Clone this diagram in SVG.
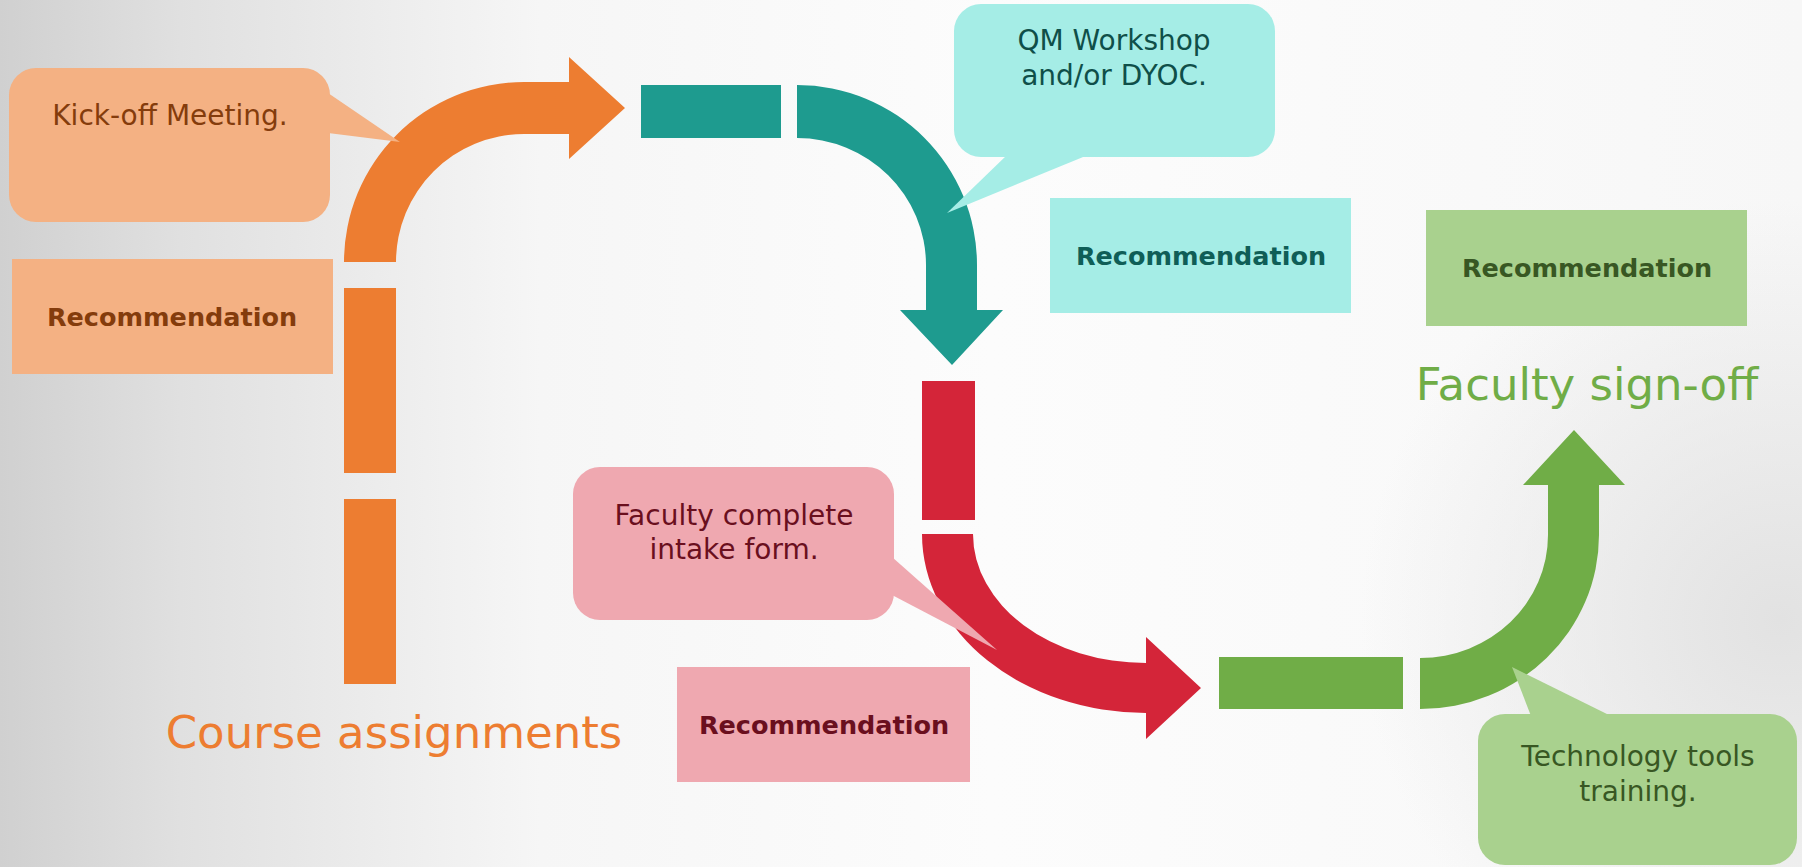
<svg xmlns="http://www.w3.org/2000/svg" width="1802" height="867" viewBox="0 0 1802 867">
<defs>
<linearGradient id="bg" x1="0" y1="0" x2="1" y2="0">
<stop offset="0" stop-color="#d0d0d0"/>
<stop offset="0.1" stop-color="#e0e0e0"/>
<stop offset="0.3" stop-color="#f6f6f6"/>
<stop offset="0.55" stop-color="#fcfcfc"/>
<stop offset="1" stop-color="#f7f7f7"/>
</linearGradient>
<radialGradient id="br" cx="1780" cy="620" r="420" gradientUnits="userSpaceOnUse">
<stop offset="0" stop-color="#e2e2e2" stop-opacity="1"/>
<stop offset="1" stop-color="#e2e2e2" stop-opacity="0"/>
</radialGradient>
<style>
.call{font-family:"DejaVu Sans","Liberation Sans",sans-serif;font-size:28px;text-anchor:middle}
.rec{font-family:"DejaVu Sans","Liberation Sans",sans-serif;font-size:25.5px;font-weight:bold;text-anchor:middle}
.title{font-family:"DejaVu Sans","Liberation Sans",sans-serif;font-size:45px;text-anchor:middle}
</style>
</defs>
<rect x="0" y="0" width="1802" height="867" fill="url(#bg)"/>
<rect x="0" y="0" width="1802" height="867" fill="url(#br)"/>

<g id="connectors">
<g id="orange-flow" fill="#ED7D31">
<rect x="344" y="499" width="52" height="185"/>
<rect x="344" y="288" width="52" height="185"/>
<path d="M344,262 A180,180 0 0 1 524,82 L569,82 L569,57 L625,108 L569,159 L569,134 L524,134 A128,128 0 0 0 396,262 Z"/>
</g>
<g id="teal-flow" fill="#1E9B8F">
<rect x="641" y="85" width="140" height="53"/>
<path d="M797,85 A180,180 0 0 1 977,265 L977,310 L1003,310 L952,365 L900,310 L926,310 L926,265 A129,127 0 0 0 797,138 Z"/>
</g>
<g id="red-flow" fill="#D42539">
<rect x="922" y="381" width="53" height="139"/>
<path d="M922,534 L973,534 A173,129 0 0 0 1146,663 L1146,637 L1201,688 L1146,739 L1146,713 A224,179 0 0 1 922,534 Z"/>
</g>
<g id="green-flow" fill="#70AD47">
<rect x="1219" y="657" width="184" height="52"/>
<path d="M1420,658 A128,123 0 0 0 1548,535 L1548,485 L1523,485 L1574,430 L1625,485 L1599,485 L1599,535 A179,174 0 0 1 1420,709 Z"/>
</g>
</g>

<g id="kickoff-callout">
<rect x="9" y="68" width="321" height="154" rx="27" fill="#F4B183"/>
<polygon points="328,93 400,142 328,133" fill="#F4B183"/>
<text class="call" x="170" y="125" fill="#843C0C">Kick-off Meeting.</text>
</g>
<g id="orange-recommendation">
<rect x="12" y="259" width="321" height="115" fill="#F4B183"/>
<text class="rec" x="172" y="326" fill="#843C0C">Recommendation</text>
</g>
<g id="course-assignments">
<text class="title" x="394" y="748" fill="#ED7D31">Course assignments</text>
</g>

<g id="qm-callout">
<rect x="954" y="4" width="321" height="153" rx="27" fill="#A5EDE6"/>
<polygon points="1007,155 947,213 1088,155" fill="#A5EDE6"/>
<text class="call" x="1114" y="50" fill="#0F4F49">QM Workshop</text>
<text class="call" x="1114" y="85" fill="#0F4F49">and/or DYOC.</text>
</g>
<g id="teal-recommendation">
<rect x="1050" y="198" width="301" height="115" fill="#A5EDE6"/>
<text class="rec" x="1201" y="265" fill="#0F5E57">Recommendation</text>
</g>

<g id="intake-callout">
<rect x="573" y="467" width="321" height="153" rx="27" fill="#EFA8B0"/>
<polygon points="892,557 997,650 892,595" fill="#EFA8B0"/>
<text class="call" x="734" y="525" fill="#6A0F1E">Faculty complete</text>
<text class="call" x="734" y="559" fill="#6A0F1E">intake form.</text>
</g>
<g id="pink-recommendation">
<rect x="677" y="667" width="293" height="115" fill="#EFA8B0"/>
<text class="rec" x="824" y="734" fill="#6A0F1E">Recommendation</text>
</g>

<g id="green-recommendation">
<rect x="1426" y="210" width="321" height="116" fill="#A9D18E"/>
<text class="rec" x="1587" y="277" fill="#385723">Recommendation</text>
</g>
<g id="faculty-signoff">
<text class="title" x="1587" y="400" fill="#70AD47">Faculty sign-off</text>
</g>
<g id="tech-callout">
<rect x="1478" y="714" width="319" height="151" rx="27" fill="#A9D18E"/>
<polygon points="1531,716 1512,667 1611,716" fill="#A9D18E"/>
<text class="call" x="1638" y="766" fill="#385723">Technology tools</text>
<text class="call" x="1638" y="801" fill="#385723">training.</text>
</g>
</svg>
